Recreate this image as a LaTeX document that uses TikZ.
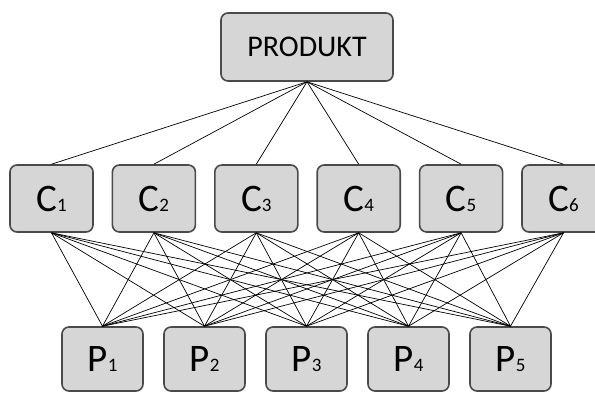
\documentclass[tikz,border=0pt]{standalone}
\usepackage{fontspec}
\setmainfont{Carlito}
\definecolor{boxfill}{HTML}{D6D6D6}
\definecolor{boxline}{HTML}{4A4A4A}
% letter with a small index set on the baseline
\newcommand{\idxlabel}[2]{{\fontsize{39}{39}\selectfont #1}{\fontsize{19}{19}\selectfont #2}}
\begin{document}
\begin{tikzpicture}[x=1pt,y=-1pt,
  card/.style={draw=boxline, fill=boxfill, line width=1.6pt, rounded corners=7pt,
    inner sep=0pt, align=center},
  link/.style={draw=black, line width=0.7pt}]
\useasboundingbox (0,0) rectangle (595,392);
\clip (0,0) rectangle (595,392);

% top node
\node[card, minimum width=172pt, minimum height=68pt,
  font=\fontsize{30}{30}\selectfont] (prod) at (307,47) {PRODUKT};

% middle row
\foreach \i in {1,...,6} {
  \pgfmathsetmacro{\cx}{51.5+102.4*(\i-1)}
  \node[card, minimum width=83pt, minimum height=67pt] (c\i) at (\cx,198.5) {\idxlabel{C}{\i}};
}

% bottom row
\foreach \j in {1,...,5} {
  \pgfmathsetmacro{\px}{102.5+102*(\j-1)}
  \node[card, minimum width=81pt, minimum height=64pt] (p\j) at (\px,359) {\idxlabel{P}{\j}};
}

% connectors
\foreach \i in {1,...,6} {
  \draw[link] (prod.south) -- (c\i.north);
  \foreach \j in {1,...,5} {
    \draw[link] (c\i.south) -- (p\j.north);
  }
}
\end{tikzpicture}
\end{document}
